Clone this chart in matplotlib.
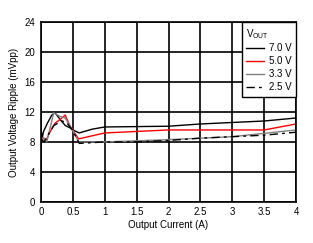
import matplotlib.pyplot as plt

plt.rcParams['font.family'] = ['Liberation Sans', 'DejaVu Sans']

# 7.0 V
x_70 = [0.0, 0.02, 0.04, 0.1, 0.17, 0.22, 0.3, 0.38, 0.45, 0.5, 0.6, 0.8, 1.0, 2.0, 2.5, 3.5, 4.0]
y_70 = [9.6, 8.6, 9.4, 10.5, 11.6, 11.9, 11.0, 10.2, 9.9, 9.6, 9.2, 9.7, 10.0, 10.1, 10.4, 10.8, 11.2]
# 5.0 V
x_50 = [0.0, 0.03, 0.08, 0.14, 0.22, 0.3, 0.38, 0.45, 0.59, 1.0, 2.0, 3.5, 4.0]
y_50 = [8.0, 8.5, 8.2, 9.3, 10.5, 11.0, 11.6, 10.2, 8.4, 9.2, 9.6, 9.6, 10.4]
# 3.3 V
x_33 = [0.0, 0.04, 0.09, 0.2, 0.3, 0.38, 0.5, 0.59, 1.0, 2.0, 3.0, 4.0]
y_33 = [8.2, 8.6, 8.0, 11.9, 11.4, 11.2, 9.5, 8.0, 8.0, 8.3, 8.7, 9.6]
# 2.5 V
x_25 = [0.0, 0.05, 0.1, 0.2, 0.33, 0.4, 0.5, 0.6, 1.0, 1.5, 2.0, 2.5, 3.0, 3.5, 4.0]
y_25 = [8.4, 8.0, 8.8, 10.2, 10.8, 10.6, 9.5, 7.8, 8.0, 8.0, 8.2, 8.5, 8.7, 8.9, 9.3]

fig = plt.figure(figsize=(3.13, 2.43), dpi=100)
ax = fig.add_axes([0.131, 0.170, 0.815, 0.738])

ax.plot(x_70, y_70, color='black', lw=1.0, label='7.0 V')
ax.plot(x_50, y_50, color='red', lw=1.0, label='5.0 V')
ax.plot(x_33, y_33, color='#808080', lw=1.0, label='3.3 V')
ax.plot(x_25, y_25, color='black', lw=1.0, ls=(0, (6, 3, 2, 3)), label='2.5 V')

ax.set_xlim(0, 4)
ax.set_ylim(0, 24)
ax.set_xticks([0, 0.5, 1, 1.5, 2, 2.5, 3, 3.5, 4])
ax.set_xticklabels(['0', '0.5', '1', '1.5', '2', '2.5', '3', '3.5', '4'])
ax.set_yticks([0, 4, 8, 12, 16, 20, 24])
ax.grid(True, color='black', lw=1.2)
ax.tick_params(labelsize=7, length=0, pad=4)
for s in ax.spines.values():
    s.set_linewidth(1.2)

ax.set_xlabel('Output Current (A)', fontsize=7, labelpad=2)
ax.set_ylabel('Output Voltage Ripple (mVpp)', fontsize=7, labelpad=4)

leg = ax.legend(title=r'V$_{\mathregular{OUT}}$', fontsize=7, title_fontsize=7,
                loc='upper right', bbox_to_anchor=(1.0, 1.0), fancybox=False,
                framealpha=1, edgecolor='black', handlelength=1.85,
                borderpad=0.45, labelspacing=0.3, handletextpad=0.5,
                borderaxespad=0)
leg.get_frame().set_linewidth(1.0)
leg._legend_box.align = 'left'

fig.savefig('out.png', dpi=100)
